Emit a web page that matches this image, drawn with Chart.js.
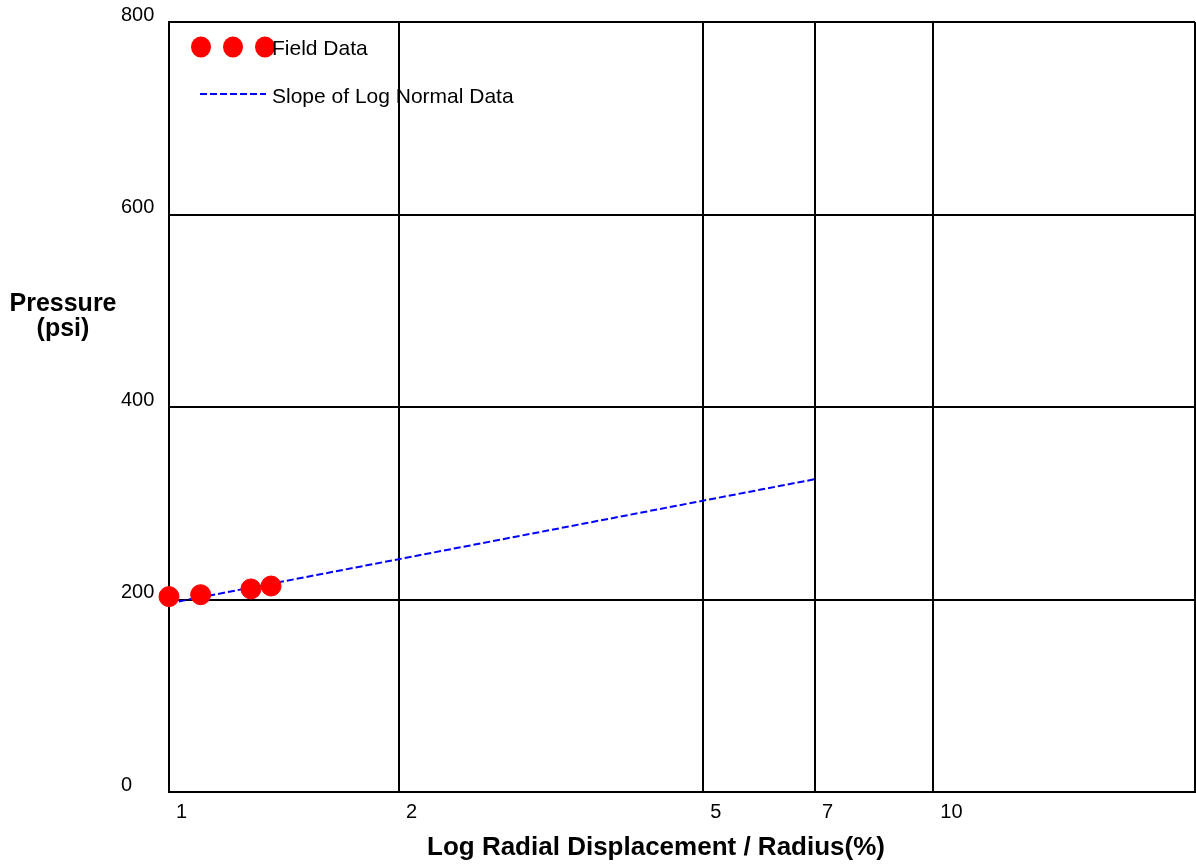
<!DOCTYPE html>
<html>
<head>
<meta charset="utf-8">
<script src="https://cdn.jsdelivr.net/npm/chart.js@4"></script>
<style>
  body { margin: 0; background: #fff; }
  #wrap { width: 1196px; height: 865px; position: relative; }
</style>
</head>
<body>
<div id="wrap"><canvas id="pressureChart"></canvas></div>
<script>
// Datos
const fieldX = [1, 1.1, 1.28, 1.36];
const fieldPressure = [203, 205, 211, 214];
const slopeX = [1, 7];
const slopePressure = [196, 325];
const xTicks = [1, 2, 5, 7, 10];
const xMax = 22;
const yTicks = [0, 200, 400, 600, 800];

const fieldLabel = 'Field Data';
const slopeLabel = 'Slope of Log Normal Data';
const xTitle = 'Log Radial Displacement / Radius(%)';
const yTitle = ['Pressure', '(psi)'];

const fontFamily = 'Arial, "Liberation Sans", Helvetica, sans-serif';

// titulos y leyenda dibujados a mano
const extrasPlugin = {
    id: 'extras',
    afterDraw(chart) {
        const ctx = chart.ctx;
        const { left, right, top, bottom } = chart.chartArea;
        ctx.save();
        ctx.fillStyle = '#000';
        ctx.textAlign = 'center';
        ctx.textBaseline = 'middle';
        ctx.font = 'bold 25px ' + fontFamily;
        ctx.fillText(yTitle[0], left - 106, top + 282);
        ctx.fillText(yTitle[1], left - 106, top + 307);
        ctx.font = 'bold 26px ' + fontFamily;
        ctx.fillText(xTitle, (left + right) / 2 - 26, bottom + 56);

        // leyenda
        ctx.fillStyle = '#ff0000';
        for (let i = 0; i < 3; i++) {
            ctx.beginPath();
            ctx.ellipse(left + 32 + i * 32, top + 25, 10, 10.5, 0, 0, Math.PI * 2);
            ctx.fill();
        }
        ctx.strokeStyle = '#0000ff';
        ctx.lineWidth = 2;
        ctx.setLineDash([7, 3]);
        ctx.beginPath();
        ctx.moveTo(left + 31, top + 72);
        ctx.lineTo(left + 97, top + 72);
        ctx.stroke();
        ctx.setLineDash([]);

        ctx.fillStyle = '#000';
        ctx.textAlign = 'left';
        ctx.font = '21px ' + fontFamily;
        ctx.fillText(fieldLabel, left + 103, top + 27);
        ctx.fillText(slopeLabel, left + 103, top + 75);
        ctx.restore();
    }
};

const ctx = document.getElementById('pressureChart');
new Chart(ctx, {
    type: 'scatter',
    data: {
        datasets: [{
            label: fieldLabel,
            data: fieldX.map((x, i) => ({ x: x, y: fieldPressure[i] })),
            backgroundColor: '#ff0000',
            borderColor: '#ff0000',
            pointRadius: 10,
            pointHoverRadius: 10,
            clip: false
        }, {
            label: slopeLabel,
            type: 'line',
            data: slopeX.map((x, i) => ({ x: x, y: slopePressure[i] })),
            borderColor: '#0000ff',
            borderWidth: 2,
            borderDash: [7, 3],
            pointRadius: 0,
            fill: false
        }]
    },
    options: {
        responsive: true,
        maintainAspectRatio: false,
        animation: false,
        layout: {
            autoPadding: false,
            padding: { left: 121, top: 22, right: 1, bottom: 33 }
        },
        plugins: {
            legend: { display: false },
            tooltip: { enabled: false }
        },
        scales: {
            x: {
                type: 'logarithmic',
                min: 1,
                max: xMax,
                afterBuildTicks: scale => {
                    scale.ticks = xTicks.concat([xMax]).map(v => ({ value: v }));
                },
                afterFit: scale => {
                    scale.height = 40;
                    scale.paddingLeft = 0;
                    scale.paddingRight = 0;
                },
                grid: { color: '#000', lineWidth: 2, drawTicks: false },
                border: { color: '#000', width: 2 },
                ticks: {
                    color: '#000',
                    font: { size: 20, family: fontFamily },
                    align: 'start',
                    labelOffset: 7,
                    padding: 8,
                    autoSkip: false,
                    maxRotation: 0,
                    callback: v => xTicks.includes(v) ? String(v) : ''
                }
            },
            y: {
                min: 0,
                max: 800,
                afterBuildTicks: scale => {
                    scale.ticks = yTicks.map(v => ({ value: v }));
                },
                afterFit: scale => {
                    scale.width = 48;
                    scale.paddingTop = 0;
                    scale.paddingBottom = 0;
                },
                grid: { color: '#000', lineWidth: 2, drawTicks: false },
                border: { color: '#000', width: 2 },
                ticks: {
                    color: '#000',
                    font: { size: 20, family: fontFamily },
                    crossAlign: 'far',
                    labelOffset: -7,
                    padding: 14
                }
            }
        }
    },
    plugins: [extrasPlugin]
});
</script>
</body>
</html>
